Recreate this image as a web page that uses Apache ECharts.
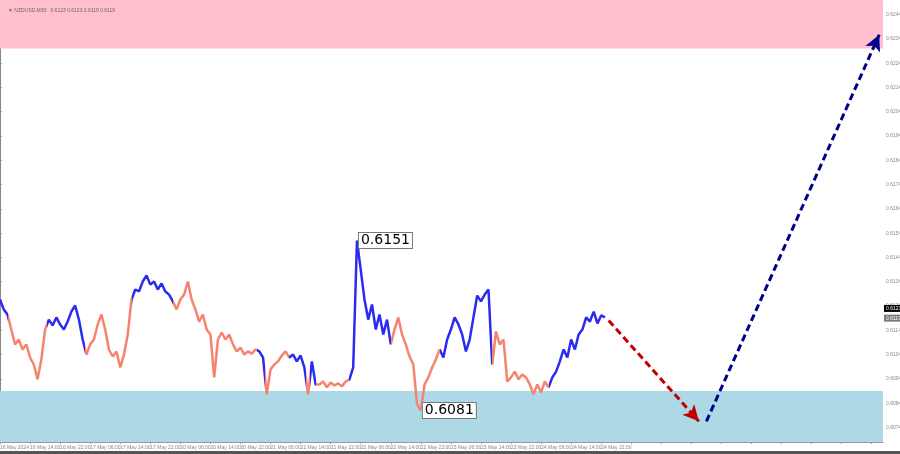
<!DOCTYPE html>
<html><head><meta charset="utf-8">
<script src="https://cdn.jsdelivr.net/npm/echarts@6/dist/echarts.min.js"></script>
<style>html,body{margin:0;padding:0;background:#fff}#c{width:900px;height:454px}</style>
</head><body><div id="c"></div>
<script>
// M30 price path sampled hourly (index = hours from 16 May 2024 start)
const closes = [
0.61267,0.61226,0.61205,0.61143,0.61082,0.61102,0.61061,0.61082,0.61028,0.60999,
0.60938,0.61020,0.61143,0.61184,0.61160,0.61193,0.61164,0.61143,0.61176,0.61217,
0.61242,0.61184,0.61102,0.61040,0.61082,0.61102,0.61164,0.61205,0.61143,0.61061,
0.61032,0.61053,0.60987,0.61040,0.61123,0.61267,0.61308,0.61300,0.61341,0.61366,
0.61328,0.61341,0.61308,0.61333,0.61300,0.61287,0.61259,0.61226,0.61267,0.61287,
0.61341,0.61267,0.61226,0.61176,0.61205,0.61143,0.61123,0.60946,0.61102,0.61131,
0.61102,0.61123,0.61082,0.61053,0.61069,0.61040,0.61053,0.61044,0.61061,0.61053,
0.61028,0.60876,0.60979,0.60999,0.61012,0.61036,0.61053,0.61028,0.61040,0.61012,
0.61036,0.60987,0.60876,0.61012,0.60917,0.60917,0.60929,0.60905,0.60925,0.60913,
0.60921,0.60909,0.60929,0.60938,0.60987,0.61510,0.61390,0.61267,0.61184,0.61246,
0.61143,0.61205,0.61123,0.61184,0.61082,0.61143,0.61193,0.61123,0.61082,0.61032,
0.60999,0.60835,0.60810,0.60917,0.60946,0.60987,0.61020,0.61061,0.61028,0.61102,
0.61143,0.61193,0.61164,0.61123,0.61053,0.61102,0.61193,0.61283,0.61259,0.61287,
0.61308,0.60999,0.61135,0.61082,0.61102,0.60929,0.60946,0.60970,0.60938,0.60958,
0.60946,0.60917,0.60876,0.60917,0.60884,0.60929,0.60905,0.60946,0.60970,0.61012,
0.61061,0.61028,0.61102,0.61061,0.61123,0.61143,0.61193,0.61176,0.61217,0.61168,
0.61201,0.61193
];
// wave segment starts (hour index) and colours
const segStarts = [0,2,12.5,22.5,35,46,68.5,70.5,77,81.5,82.5,84,93,104,117,131,146];
const waveColors = ['#2b2bf0','#f7836e'];
// time labels every 8 hours
const timeLabels = ["16 May 2024","16 May 14:00","16 May 22:00","17 May 06:00","17 May 14:00","17 May 22:00",
"20 May 06:00","20 May 14:00","20 May 22:00","21 May 06:00","21 May 14:00","21 May 22:00",
"22 May 06:00","22 May 14:00","22 May 22:00","23 May 06:00","23 May 14:00","23 May 22:00",
"24 May 06:00","24 May 14:00","24 May 22:00"];
const priceTicks = [0.6074,0.6084,0.6094,0.6104,0.6114,0.6124,0.6134,0.6144,0.6154,0.6164,
0.6174,0.6184,0.6194,0.6204,0.6214,0.6224,0.6234,0.6244];
// zones
const resistanceZone = [0.6230, 0.6250];
const supportZone = [0.6068, 0.6089];
// forecast
const forecastDown = [[162, 0.6118],[186, 0.60765]];
const forecastUp = [[188, 0.60765],[234, 0.62357]];
// extreme labels
const extremes = [[95, 0.6151, '0.6151'],[112, 0.6081, '0.6081']];
// current price tags
const priceTags = [[0.6123,'#000000'],[0.6119,'#7a7a7a']];

const pieces = segStarts.map((s,k)=>({
  gte: s, lt: (k+1<segStarts.length ? segStarts[k+1] : 1000), color: waveColors[k%2]
}));
const small = 'Liberation Sans Narrow, Liberation Sans, DejaVu Sans';
const X_MAX = 235;

const chart = echarts.init(document.getElementById('c'), null, {renderer:'canvas'});
chart.setOption({
  animation:false,
  backgroundColor:'#ffffff',
  title:{text:'\u25BC NZDUSD,M30:  0.6123 0.6123 0.6119 0.6119', left:3, top:3,
    textStyle:{fontSize:5, color:'#666', fontWeight:'normal', fontFamily:small}},
  grid:{left:0, right:17, top:0, bottom:12, containLabel:false, outerBoundsMode:'none'},
  xAxis:{type:'value', min:0, max:X_MAX, interval:8,
    axisLine:{show:true, lineStyle:{color:'#999', width:1}},
    axisTick:{show:true, length:2, lineStyle:{color:'#999'}},
    splitLine:{show:false},
    axisLabel:{fontSize:5, color:'#888', align:'left', margin:3, fontFamily:small,
      showMaxLabel:false, showMinLabel:true, hideOverlap:false,
      formatter:(v)=>{const k=Math.round(v/8); return (v%8===0 && k<timeLabels.length)?timeLabels[k]:'';}}
  },
  yAxis:{type:'value', position:'right', min:0.6068, max:0.6250, scale:true,
    axisLine:{show:true, lineStyle:{color:'#888', width:1}},
    axisTick:{show:true, length:2, customValues:priceTicks, lineStyle:{color:'#999'}},
    splitLine:{show:false},
    axisLabel:{fontSize:5, color:'#888', margin:3, fontFamily:small,
      customValues:priceTicks, formatter:(v)=>v.toFixed(4)}
  },
  visualMap:{type:'piecewise', show:false, dimension:0, seriesIndex:1, pieces:pieces},
  graphic:[{type:'rect', left:0, top:451, shape:{width:900, height:3}, style:{fill:'#555'}, silent:true}],
  series:[
    {type:'line', data:[], z:1, silent:true,
      markArea:{silent:true, data:[
        [{yAxis:resistanceZone[0], itemStyle:{color:'#ffc0cb', opacity:1}},{yAxis:resistanceZone[1]}],
        [{yAxis:supportZone[0], itemStyle:{color:'#add8e6', opacity:1}},{yAxis:supportZone[1]}]
      ]}
    },
    {type:'line', data:closes.map((v,i)=>[i,v]), z:3, showSymbol:false, symbol:'none',
      lineStyle:{width:2.5}},
    {type:'line', data:[], z:4,
      markLine:{silent:true, symbol:['none','arrow'], symbolSize:[12,16],
        lineStyle:{color:'#c00000', width:3, type:[7,4]}, label:{show:false},
        data:[[{coord:forecastDown[0]},{coord:forecastDown[1]}]]},
      markPoint:{silent:true, symbol:'circle', symbolSize:0,
        data: extremes.map(e=>({coord:[e[0],e[1]], label:{show:true, position:'right', distance:2,
          formatter:e[2], fontSize:14, color:'#000', backgroundColor:'#fff', borderColor:'#777',
          borderWidth:1, padding:[1,2,0,2], fontFamily:'DejaVu Sans'}}))}
    },
    {type:'line', data:[], z:4,
      markLine:{silent:true, symbol:['none','arrow'], symbolSize:[12,16],
        lineStyle:{color:'#00008b', width:3, type:[7,4]}, label:{show:false},
        data:[[{coord:forecastUp[0]},{coord:forecastUp[1]}]]}
    },
    {type:'line', data:[], z:6, silent:true,
      markPoint:{silent:true, symbol:'circle', symbolSize:0,
        data: priceTags.map(t=>({coord:[X_MAX, t[0]],
          label:{show:true, position:'right', distance:1, formatter:t[0].toFixed(4), fontSize:5,
            color:'#fff', backgroundColor:t[1], padding:[1,2], fontFamily:small}}))}
    }
  ]
});
</script></body></html>
